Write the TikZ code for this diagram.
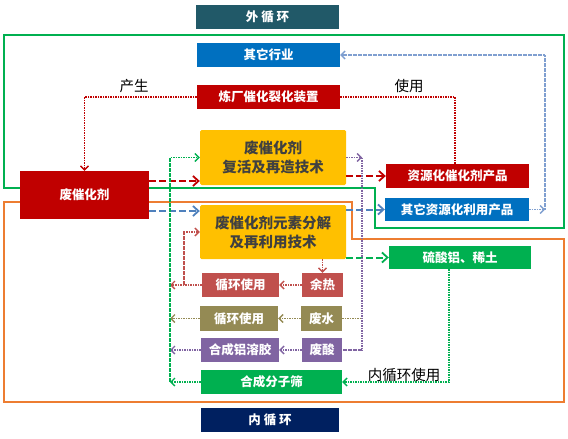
\documentclass[tikz,border=0pt]{standalone}
\usepackage{fontspec}
\setmainfont{Noto Sans CJK SC}
\usetikzlibrary{arrows.meta,backgrounds}

\definecolor{cteal}{HTML}{215968}
\definecolor{cblue}{HTML}{0070C0}
\definecolor{cred}{HTML}{C00000}
\definecolor{cyellow}{HTML}{FFC000}
\definecolor{cgreen}{HTML}{00B050}
\definecolor{cpink}{HTML}{C0504D}
\definecolor{colive}{HTML}{948A54}
\definecolor{cpurple}{HTML}{8064A2}
\definecolor{cnavy}{HTML}{002060}
\definecolor{corange}{HTML}{ED7D31}
\definecolor{cdash}{HTML}{4F81BD}
\definecolor{cdot}{HTML}{7F9FD0}

\begin{document}
\begin{tikzpicture}[
  x=1pt, y=-1pt,
  box/.style={inner sep=0pt, text=white, font=\bfseries\fontsize{12.5}{14}\selectfont, align=center},
  techbox/.style={box, fill=cyellow, rounded corners=1.5pt, text=black!75, font=\bfseries\fontsize{14.5}{19}\selectfont},
  lbl/.style={inner sep=0pt, font=\fontsize{14.5}{16}\selectfont},
  frame/.style={line width=1.3pt},
  dashedarrow/.style={line width=2pt, dash pattern=on 6.5pt off 3.5pt, -{Straight Barb[length=5.5pt,width=10pt,line width=1.8pt]}},
  dottedline/.style={line width=1.6pt, dash pattern=on 1.6pt off 0.9pt},
  dottedarrow/.style={dottedline, -{Straight Barb[length=4pt,width=8pt,line width=1.4pt]}}
]
  \useasboundingbox (0,0) rectangle (568,439);

  % Outer loop boxes
  \node[box, fill=cteal, minimum width=143pt, minimum height=24pt] (outer) at (267.5,17) {外\ 循\ 环};
  \node[box, fill=cblue, minimum width=143pt, minimum height=24pt] (other) at (268.5,55) {其它行业};
  \node[box, fill=cred, minimum width=143pt, minimum height=24pt] (plant) at (268.5,97) {炼厂催化裂化装置};
  \node[lbl] (produce) at (134,86) {产生};
  \node[lbl] (use) at (409,86) {使用};

  % Spent catalyst and technologies
  \node[box, fill=cred, minimum width=129pt, minimum height=48pt] (spent) at (84.5,195) {废催化剂};
  \node[techbox, minimum width=146pt, minimum height=55pt] (regen) at (273,157.5) {废催化剂\\复活及再造技术};
  \node[techbox, minimum width=146pt, minimum height=54pt] (decomp) at (273,232) {废催化剂元素分解\\及再利用技术};

  % Products
  \node[box, fill=cred, minimum width=143pt, minimum height=24pt] (prodA) at (457.5,176) {资源化催化剂产品};
  \node[box, fill=cblue, minimum width=144pt, minimum height=23pt] (prodB) at (457,209.5) {其它资源化利用产品};
  \node[box, fill=cgreen, minimum width=142pt, minimum height=23pt] (salt) at (460,257.5) {硫酸铝、稀土};

  % By-products and reuse
  \node[box, fill=cpink, minimum width=41pt, minimum height=24pt] (heat) at (322.5,285) {余热};
  \node[box, fill=cpink, minimum width=77pt, minimum height=24pt] (reuseA) at (240.5,285) {循环使用};
  \node[box, fill=colive, minimum width=41pt, minimum height=25pt] (water) at (321.5,318.5) {废水};
  \node[box, fill=colive, minimum width=78pt, minimum height=25pt] (reuseB) at (239,318.5) {循环使用};
  \node[box, fill=cpurple, minimum width=40pt, minimum height=24pt] (acid) at (322,350) {废酸};
  \node[box, fill=cpurple, minimum width=78pt, minimum height=24pt] (sol) at (240,350) {合成铝溶胶};
  \node[box, fill=cgreen, minimum width=141pt, minimum height=24pt] (sieve) at (271.5,382) {合成分子筛};
  \node[lbl] (innuse) at (404,375) {内循环使用};
  \node[box, fill=cnavy, minimum width=138pt, minimum height=24pt] (inner) at (270,420) {内\ 循\ 环};

  % Loop frames
  \begin{scope}[on background layer]
    \draw[frame, cgreen] (4,188) -- (4,35) -- (564,35) -- (564,228) -- (375,228) -- (375,188) -- cycle;
    \draw[frame, corange] (4,202) -- (4,402) -- (564,402) -- (564,239) -- (352,239) -- (352,202) -- cycle;
  \end{scope}

  % Helper points
  \coordinate (bc) at (545,209.5);
  \coordinate (gl) at (170,157.5);
  \coordinate (pk) at (184,285);
  \coordinate (pv) at (362,157.5);

  % Outer connectors
  \draw[dottedarrow, cred] (plant.west) -| (spent.north);
  \draw[dottedline, cred] (plant.east) -| ([xshift=-2.5pt]prodA.north);
  \draw[dottedarrow, cdot] (prodB.east) -- (bc);
  \draw[dottedarrow, cdot] (bc) |- (other.east);

  % Main flows
  \draw[dashedarrow, cred] ([yshift=14pt]spent.east) -- ([yshift=14pt]spent.east -| regen.west);
  \draw[dashedarrow, cdash] ([yshift=-16pt]spent.east) -- ([yshift=-16pt]spent.east -| decomp.west);
  \draw[dashedarrow, cred] (regen.east |- prodA.west) -- (prodA.west);
  \draw[dashedarrow, cdash] (decomp.east |- prodB.west) -- (prodB.west);
  \draw[dashedarrow, cgreen] (decomp.east |- salt.west) -- (salt.west);

  % Inner loop
  \draw[dottedarrow, cpink] (decomp.south -| heat.north) -- (heat.north);
  \draw[dottedarrow, cpink] (heat.west) -- (reuseA.east);
  \draw[dottedarrow, colive] (water.west) -- (reuseB.east);
  \draw[dottedarrow, cpurple] (acid.west) -- (sol.east);
  \draw[dottedarrow, cpurple] (regen.east) -- (pv);
  \draw[dottedline, cpurple] (pv) |- (acid.east);
  \draw[dottedline, colive] (water.east) -- (water.east -| pv);
  \draw[dottedarrow, cgreen] ([xshift=-11pt]salt.south) |- (sieve.east);
  \draw[dottedarrow, cpink] (reuseA.west) -- (reuseA.west -| gl);
  \draw[dottedarrow, colive] (reuseB.west) -- (reuseB.west -| gl);
  \draw[dottedarrow, cpurple] (sol.west) -- (sol.west -| gl);
  \draw[dottedarrow, cgreen] (sieve.west) -- (sieve.west -| gl);
  \draw[dottedarrow, cgreen] (gl |- sieve.west) |- (regen.west);
  \draw[dottedarrow, cpink] (pk) |- (decomp.west);

\end{tikzpicture}
\end{document}
